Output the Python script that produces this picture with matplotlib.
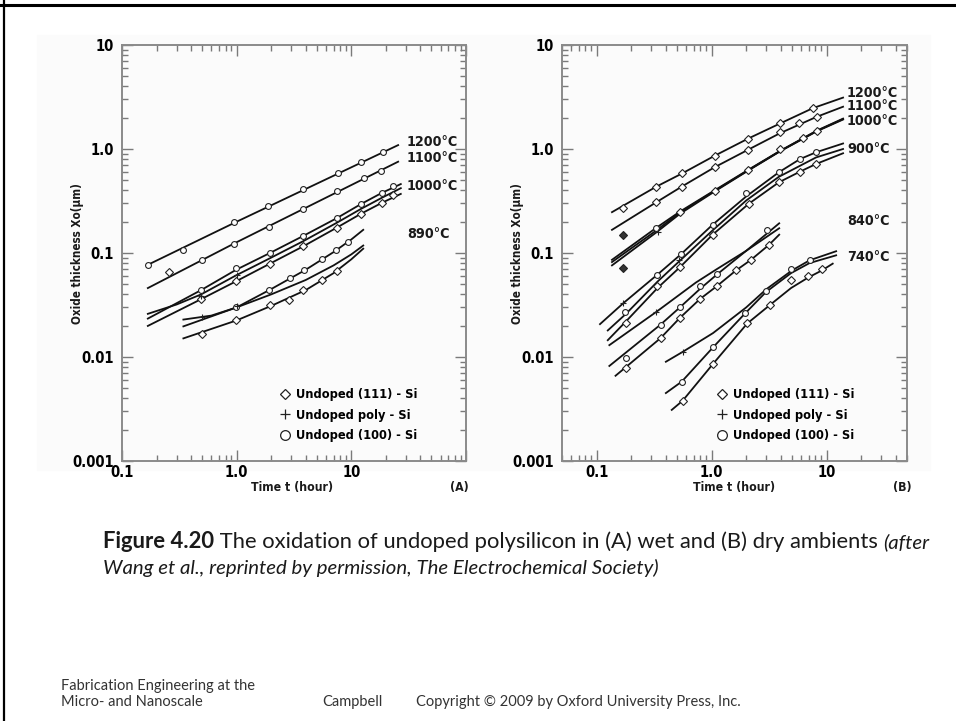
import matplotlib.pyplot as plt
from matplotlib.lines import Line2D
import matplotlib.font_manager as fm

W, H = 956, 721

# ---------------- panel A (wet) ----------------
A1200_t = [0.168, 1.0, 25.6]
A1200_x = [0.077, 0.2, 1.09]
A1200_mt = [0.168, 0.338, 0.953, 1.89, 3.81, 7.69, 12.1, 18.7]
A1200_mx = [0.077, 0.108, 0.198, 0.28, 0.41, 0.583, 0.744, 0.93]

A1100_t = [0.168, 1.0, 25.6]
A1100_x = [0.046, 0.127, 0.755]
A1100_mt = [0.495, 0.953, 1.92, 3.81, 7.45, 12.9, 18.0]
A1100_mx = [0.086, 0.123, 0.177, 0.262, 0.392, 0.522, 0.62]
A1100_dt = [0.258]
A1100_dx = [0.065]

A1000c_t = [0.168, 0.49, 0.99, 1.95, 3.81, 7.45, 12.1, 18.5, 27.0]
A1000c_x = [0.0234, 0.044, 0.069, 0.1, 0.146, 0.216, 0.295, 0.379, 0.46]
A1000p_t = [0.168, 0.3, 0.49, 0.99, 1.95, 3.81, 7.45, 12.1, 18.5, 27.0]
A1000p_x = [0.026, 0.032, 0.04, 0.061, 0.089, 0.13, 0.195, 0.265, 0.34, 0.42]
A1000d_t = [0.168, 0.49, 0.99, 1.95, 3.81, 7.45, 12.1, 18.5, 27.0]
A1000d_x = [0.0199, 0.036, 0.0535, 0.079, 0.116, 0.175, 0.238, 0.304, 0.37]
A1000c_mt = [0.49, 0.99, 1.95, 3.81, 7.45, 12.1, 18.5, 23.2]
A1000c_mx = [0.044, 0.071, 0.1, 0.145, 0.216, 0.297, 0.379, 0.44]
A1000d_mt = [0.49, 0.99, 1.95, 3.81, 7.45, 12.1, 18.5, 23.2]
A1000d_mx = [0.036, 0.0535, 0.079, 0.116, 0.175, 0.238, 0.304, 0.36]
A1000p_mt = [0.49, 1.0]
A1000p_mx = [0.039, 0.062]

A890c_t = [0.343, 1.0, 2.0, 4.0, 7.0, 10.0, 12.7]
A890c_x = [0.0197, 0.030, 0.045, 0.069, 0.102, 0.135, 0.167]
A890p_t = [0.343, 0.6, 1.0, 2.0, 4.0, 7.0, 10.0, 12.7]
A890p_x = [0.0229, 0.025, 0.030, 0.040, 0.055, 0.076, 0.097, 0.118]
A890d_t = [0.343, 1.0, 2.0, 4.0, 7.0, 10.0, 12.7]
A890d_x = [0.0151, 0.0225, 0.031, 0.044, 0.064, 0.087, 0.110]
A890c_mt = [0.99, 1.92, 2.9, 3.9, 5.6, 7.3, 9.4]
A890c_mx = [0.030, 0.044, 0.057, 0.069, 0.087, 0.107, 0.127]
A890d_mt = [0.495, 0.99, 1.95, 2.86, 3.81, 5.6, 7.45]
A890d_mx = [0.0165, 0.0229, 0.0315, 0.0357, 0.0443, 0.055, 0.0664]
A890p_mt = [0.495, 1.0]
A890p_mx = [0.0243, 0.031]

# ---------------- panel B (dry) ----------------
B1200_t = [0.136, 0.331, 0.557, 1.06, 2.08, 3.94, 7.59, 13.9]
B1200_x = [0.247, 0.435, 0.584, 0.86, 1.26, 1.76, 2.47, 3.12]
B1200_mt = [0.171, 0.331, 0.557, 1.06, 2.08, 3.94, 7.59]
B1200_mx = [0.27, 0.435, 0.584, 0.86, 1.26, 1.76, 2.47]

B1100_t = [0.136, 0.331, 0.55, 1.06, 2.08, 3.94, 8.2, 13.9]
B1100_x = [0.167, 0.308, 0.435, 0.667, 0.985, 1.42, 2.04, 2.55]
B1100_mt = [0.331, 0.55, 1.06, 2.08, 3.94, 5.7, 8.2]
B1100_mx = [0.308, 0.435, 0.667, 0.985, 1.45, 1.76, 2.04]

B1000c_t = [0.136, 0.331, 0.53, 1.06, 2.08, 3.94, 8.2, 13.9]
B1000c_x = [0.086, 0.175, 0.25, 0.40, 0.63, 0.96, 1.5, 1.96]
B1000p_t = [0.136, 0.331, 0.53, 1.06, 2.08, 3.94, 8.2, 13.9]
B1000p_x = [0.0818, 0.165, 0.245, 0.395, 0.625, 0.955, 1.49, 1.94]
B1000d_t = [0.136, 0.331, 0.53, 1.06, 2.08, 3.94, 8.2, 13.9]
B1000d_x = [0.076, 0.158, 0.238, 0.39, 0.62, 0.95, 1.48, 1.92]
B1000_mt = [0.53, 1.06, 2.08, 3.94, 6.2, 8.2]
B1000_mx = [0.25, 0.396, 0.623, 0.99, 1.28, 1.5]
B1000c_mt = [0.331]
B1000c_mx = [0.175]
B1000p_mt = [0.34]
B1000p_mx = [0.16]
Bfill_t = [0.171, 0.171]
Bfill_x = [0.150, 0.072]

B900c_t = [0.107, 0.171, 0.338, 0.54, 1.02, 2.0, 3.84, 5.87, 8.1, 13.9]
B900c_x = [0.0207, 0.033, 0.062, 0.097, 0.187, 0.35, 0.597, 0.80, 0.93, 1.13]
B900p_t = [0.125, 0.18, 0.338, 0.54, 1.02, 2.0, 3.84, 8.1, 13.9]
B900p_x = [0.018, 0.026, 0.053, 0.086, 0.165, 0.32, 0.54, 0.83, 1.0]
B900d_t = [0.125, 0.18, 0.338, 0.53, 1.02, 2.1, 3.84, 5.87, 8.1, 13.9]
B900d_x = [0.0145, 0.022, 0.046, 0.073, 0.15, 0.297, 0.478, 0.606, 0.718, 0.91]
B900c_mt = [0.177, 0.338, 0.54, 1.02, 2.0, 3.84, 5.87, 8.1]
B900c_mx = [0.027, 0.062, 0.097, 0.187, 0.375, 0.597, 0.80, 0.93]
B900d_mt = [0.18, 0.338, 0.53, 1.02, 2.1, 3.84, 5.87, 8.1]
B900d_mx = [0.021, 0.048, 0.073, 0.15, 0.297, 0.478, 0.606, 0.718]
B900p_mt = [0.171, 0.52]
B900p_mx = [0.033, 0.085]

B840c_t = [0.129, 0.36, 0.53, 0.79, 1.11, 2.0, 3.87]
B840c_x = [0.0082, 0.0205, 0.030, 0.045, 0.062, 0.105, 0.193]
B840p_t = [0.129, 0.328, 0.73, 1.11, 2.0, 3.87]
B840p_x = [0.013, 0.027, 0.052, 0.07, 0.105, 0.173]
B840d_t = [0.146, 0.36, 0.53, 0.79, 1.11, 1.63, 2.2, 3.16, 3.87]
B840d_x = [0.0066, 0.0152, 0.0238, 0.036, 0.048, 0.068, 0.086, 0.12, 0.15]
B840c_mt = [0.18, 0.36, 0.53, 0.79, 1.11, 3.05]
B840c_mx = [0.0098, 0.0202, 0.030, 0.048, 0.063, 0.167]
B840d_mt = [0.18, 0.36, 0.53, 0.79, 1.11, 1.63, 2.2, 3.16]
B840d_mx = [0.0079, 0.0152, 0.0238, 0.036, 0.048, 0.068, 0.086, 0.12]
B840p_mt = [0.328]
B840p_mx = [0.027]

B740p_t = [0.40, 0.56, 1.03, 2.0, 3.0, 5.0, 7.1, 12.1]
B740p_x = [0.009, 0.0112, 0.017, 0.03, 0.045, 0.068, 0.085, 0.104]
B740c_t = [0.40, 0.55, 1.03, 1.97, 2.96, 4.9, 7.1, 12.1]
B740c_x = [0.0045, 0.0058, 0.0124, 0.0265, 0.042, 0.064, 0.08, 0.095]
B740d_t = [0.45, 0.56, 1.03, 2.04, 3.2, 4.9, 6.9, 9.1, 11.3]
B740d_x = [0.0031, 0.0038, 0.0086, 0.021, 0.0315, 0.046, 0.058, 0.068, 0.079]
B740c_mt = [0.55, 1.03, 1.97, 2.96, 4.9, 7.1]
B740c_mx = [0.0058, 0.0124, 0.0265, 0.043, 0.0707, 0.085]
B740d_mt = [0.56, 1.03, 2.04, 3.2, 4.9, 6.9, 9.1]
B740d_mx = [0.0038, 0.0086, 0.021, 0.0315, 0.055, 0.06, 0.07]
B740p_mt = [0.56]
B740p_mx = [0.0112]

temps_A = ["1200°C", "1100°C", "1000°C", "890°C"]
temps_A_y = [141.7, 158.3, 185.7, 234.0]
temps_B = ["1200°C", "1100°C", "1000°C", "900°C", "840°C", "740°C"]
temps_B_y = [93.0, 106.0, 120.7, 149.3, 221.0, 256.7]
legend_labels = ["Undoped (111) - Si", "Undoped poly - Si", "Undoped (100) - Si"]

# ---------------- fonts ----------------
fonts = fm.fontManager.ttflist
names = {f.name for f in fonts}
if 'Liberation Sans Narrow' in names:
    NARROW, STRETCH, SC = ['Liberation Sans Narrow', 'DejaVu Sans'], 'normal', 1.0
elif any(f.name == 'DejaVu Sans' and f.stretch == 'condensed' for f in fonts):
    NARROW, STRETCH, SC = ['DejaVu Sans', 'DejaVu Sans'], 'condensed', 0.95
else:
    NARROW, STRETCH, SC = ['Roboto', 'DejaVu Sans'], 'normal', 0.95
LBL = dict(family=NARROW, weight='bold', stretch=STRETCH, color='#1a1a1a')
CAP = ['Lato', 'DejaVu Sans']

fig = plt.figure(figsize=(W / 100, H / 100), dpi=100)
fig.patches.append(plt.Rectangle((37 / W, 1 - 470 / H), 893 / W, 435 / H,
                                 transform=fig.transFigure, color='#fbfbfb', zorder=-5))
# slide border (top and left)
fig.add_artist(Line2D([0, 1], [1 - 4.5 / H] * 2, color='black', lw=2.2, transform=fig.transFigure))
fig.add_artist(Line2D([4 / W] * 2, [0, 1], color='black', lw=1.6, transform=fig.transFigure))

axA = fig.add_axes([122 / W, 1 - 461 / H, 344 / W, 416 / H])
axB = fig.add_axes([562 / W, 1 - 461 / H, 345 / W, 416 / H])

LW = 1.3
MS = 4.2


def curve(ax, t, x):
    ax.plot(t, x, color='#111111', lw=LW, zorder=2)


def marks(ax, t, x, m, ms=MS, fill='white'):
    ax.plot(t, x, ls='none', marker=m, ms=ms, mfc=fill, mec='#222222', mew=0.8, zorder=3)


def setup(ax, xlim, xmaj, xlab):
    ax.set_xscale('log')
    ax.set_yscale('log')
    ax.set_xlim(*xlim)
    ax.set_ylim(1e-3, 10)
    ax.set_facecolor('#fbfbfb')
    ax.set_xticks(xmaj)
    ax.set_xticklabels(xlab)
    ax.set_yticks([1e-3, 1e-2, 1e-1, 1, 10])
    ax.set_yticklabels(["0.001", "0.01", "0.1", "1.0", "10"])
    ax.tick_params(which='both', direction='in', top=True, right=True, color='#7a7a7a', width=1.0)
    ax.tick_params(axis='y', pad=6)
    ax.tick_params(axis='x', pad=3)
    ax.tick_params(which='major', length=8)
    ax.tick_params(which='minor', length=4.5)
    for lab in ax.get_xticklabels() + ax.get_yticklabels():
        lab.set_fontfamily(NARROW)
        lab.set_fontweight('bold')
        lab.set_fontstretch(STRETCH)
        lab.set_fontsize(11.2 * SC)
    for s in ax.spines.values():
        s.set_color('#8a8a8a')
        s.set_linewidth(1.4)


setup(axA, (0.1, 100), [0.1, 1, 10, 100], ["0.1", "1.0", "10", ""])
setup(axB, (0.05, 50), [0.1, 1, 10], ["0.1", "1.0", "10"])

# panel A curves
for t, x in [(A1200_t, A1200_x), (A1100_t, A1100_x), (A1000c_t, A1000c_x), (A1000p_t, A1000p_x),
             (A1000d_t, A1000d_x), (A890c_t, A890c_x), (A890p_t, A890p_x), (A890d_t, A890d_x)]:
    curve(axA, t, x)
marks(axA, A1200_mt, A1200_mx, 'o')
marks(axA, A1100_mt, A1100_mx, 'o')
marks(axA, A1100_dt, A1100_dx, 'D', ms=3.6)
marks(axA, A1000c_mt, A1000c_mx, 'o')
marks(axA, A1000d_mt, A1000d_mx, 'D', ms=3.6)
marks(axA, A1000p_mt, A1000p_mx, '+', ms=5)
marks(axA, A890c_mt, A890c_mx, 'o')
marks(axA, A890d_mt, A890d_mx, 'D', ms=3.6)
marks(axA, A890p_mt, A890p_mx, '+', ms=5)

# panel B curves
for t, x in [(B1200_t, B1200_x), (B1100_t, B1100_x), (B1000c_t, B1000c_x), (B1000p_t, B1000p_x),
             (B1000d_t, B1000d_x), (B900c_t, B900c_x), (B900p_t, B900p_x), (B900d_t, B900d_x),
             (B840c_t, B840c_x), (B840p_t, B840p_x), (B840d_t, B840d_x),
             (B740p_t, B740p_x), (B740c_t, B740c_x), (B740d_t, B740d_x)]:
    curve(axB, t, x)
marks(axB, B1200_mt, B1200_mx, 'D', ms=3.6)
marks(axB, B1100_mt, B1100_mx, 'D', ms=3.6)
marks(axB, B1000_mt, B1000_mx, 'D', ms=3.6)
marks(axB, B1000c_mt, B1000c_mx, 'o')
marks(axB, B1000p_mt, B1000p_mx, '+', ms=5)
marks(axB, Bfill_t, Bfill_x, 'D', ms=3.6, fill='#333333')
marks(axB, B900c_mt, B900c_mx, 'o')
marks(axB, B900d_mt, B900d_mx, 'D', ms=3.6)
marks(axB, B900p_mt, B900p_mx, '+', ms=5)
marks(axB, B840c_mt, B840c_mx, 'o')
marks(axB, B840d_mt, B840d_mx, 'D', ms=3.6)
marks(axB, B840p_mt, B840p_mx, '+', ms=5)
marks(axB, B740c_mt, B740c_mx, 'o')
marks(axB, B740d_mt, B740d_mx, 'D', ms=3.6)
marks(axB, B740p_mt, B740p_mx, '+', ms=5)

# temperature labels
for lab, py in zip(temps_A, temps_A_y):
    fig.text(407 / W, 1 - py / H, lab, ha='left', va='center', fontsize=10.8 * SC, **LBL)
for lab, py in zip(temps_B, temps_B_y):
    fig.text(847 / W, 1 - py / H, lab, ha='left', va='center', fontsize=10.8 * SC, **LBL)

# legends
handles = [Line2D([], [], ls='none', marker='D', ms=5, mfc='white', mec='#222', mew=0.9),
           Line2D([], [], ls='none', marker='+', ms=6.5, mec='#222', mew=0.9),
           Line2D([], [], ls='none', marker='o', ms=7, mfc='white', mec='#222', mew=0.9)]
for ax, anchor in [(axA, (0.44, 0.19)), (axB, (0.43, 0.19))]:
    ax.legend(handles, legend_labels, loc='upper left', bbox_to_anchor=anchor, frameon=False,
              handlelength=0.8, handletextpad=0.5, labelspacing=0.58, borderpad=0,
              prop=dict(family=NARROW, weight='bold', stretch=STRETCH, size=9.7 * SC))

# axis titles
for xc in [77, 517]:
    fig.text(xc / W, 1 - 254 / H, "Oxide thickness Xo(μm)", rotation=90, ha='center', va='center',
             fontsize=8.8 * SC, **LBL)
fig.text(292 / W, 1 - 487 / H, "Time t (hour)", ha='center', va='center', fontsize=9.3 * SC, **LBL)
fig.text(734 / W, 1 - 487 / H, "Time t (hour)", ha='center', va='center', fontsize=9.3 * SC, **LBL)
fig.text(459 / W, 1 - 487 / H, "(A)", ha='center', va='center', fontsize=9.3 * SC, **LBL)
fig.text(902 / W, 1 - 487 / H, "(B)", ha='center', va='center', fontsize=9.3 * SC, **LBL)

# caption with mixed styles
renderer = fig.canvas.get_renderer()


def runs(x0, y0, parts, size):
    x = x0
    for s, w, st, k in parts:
        t = fig.text(x / W, 1 - y0 / H, s, ha='left', va='baseline', fontsize=size * k,
                     family=CAP, weight=w, style=st, color='#1a1a1a')
        x += t.get_window_extent(renderer).width


runs(103, 548, [("Figure 4.20", 'bold', 'normal', 1.0),
                (" The oxidation of undoped polysilicon in (A) wet and (B) dry ambients ", 'normal', 'normal', 1.0),
                ("(after", 'normal', 'italic', 0.93)], 15.8)
runs(103, 574, [("Wang et al., reprinted by permission, The Electrochemical Society)", 'normal', 'italic', 0.93)], 15.8)

# footer
FT = dict(fontsize=10.5, family=CAP, color='#333333', va='baseline')
fig.text(61 / W, 1 - 690 / H, "Fabrication Engineering at the", **FT)
fig.text(61 / W, 1 - 706 / H, "Micro- and Nanoscale", **FT)
fig.text(322 / W, 1 - 706 / H, "Campbell", **FT)
fig.text(416 / W, 1 - 706 / H, "Copyright © 2009 by Oxford University Press, Inc.", **FT)

fig.savefig("out.png", dpi=100)
